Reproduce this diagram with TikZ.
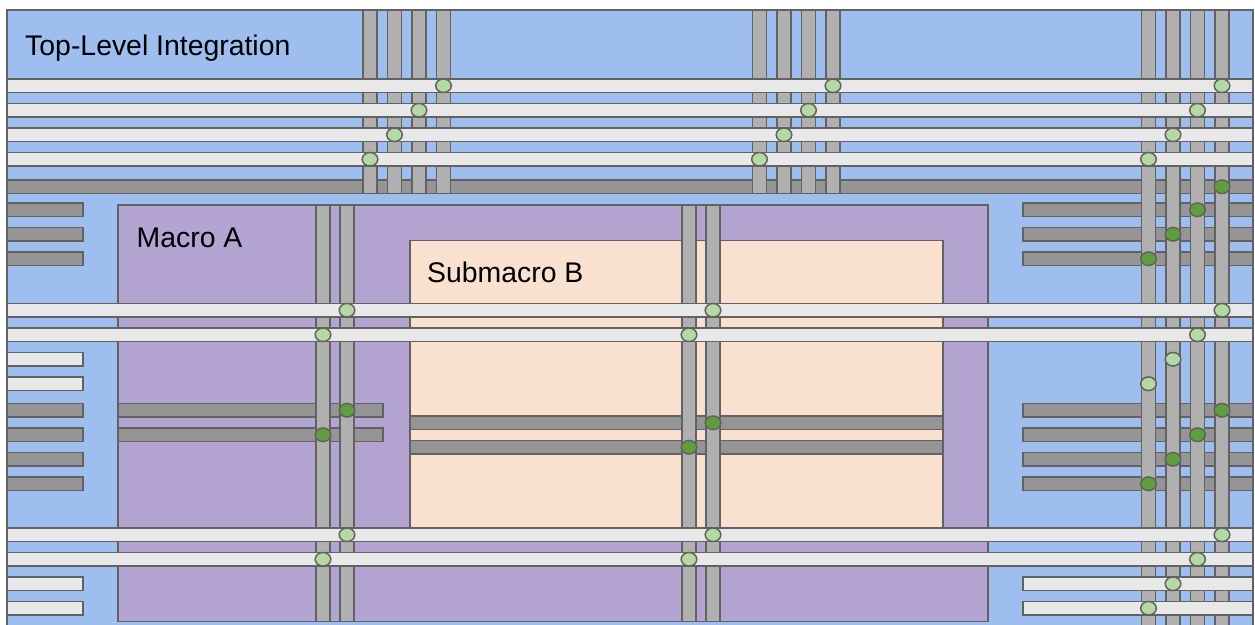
\documentclass[tikz,border=0pt]{standalone}
\usepackage{fontspec}
\setmainfont{Liberation Sans}
\definecolor{topblue}{HTML}{9FBEF0}
\definecolor{macropurple}{HTML}{B4A4D2}
\definecolor{subpeach}{HTML}{FAE0CF}
\definecolor{lightrail}{HTML}{E8E8E8}
\definecolor{vertrail}{HTML}{B0B0B0}
\definecolor{darkrail}{HTML}{959595}
\definecolor{lightvia}{HTML}{B4D9A3}
\definecolor{darkvia}{HTML}{5E9E3F}
\definecolor{edgegray}{HTML}{626262}
\tikzset{
  blk/.style={draw=edgegray, line width=1.6pt},
  lrail/.style={draw=edgegray, fill=lightrail, line width=1.6pt},
  drail/.style={draw=edgegray, fill=darkrail, line width=1.6pt},
  vrail/.style={draw=edgegray, fill=vertrail, line width=1.6pt},
  lvia/.style={draw=edgegray, fill=lightvia, line width=1.5pt},
  dvia/.style={draw=edgegray, fill=darkvia, line width=1.5pt},
  lbl/.style={anchor=base west, inner sep=0pt, font=\fontsize{28.4}{30}\selectfont}
}
\newcommand{\hrl}[4]{\path[#1] (#2,#4) rectangle (#3,#4+13.5);}
\newcommand{\vrl}[3]{\path[vrail] (#1-7,#2) rectangle (#1+7,#3);}
\newcommand{\lv}[2]{\path[lvia] (#1,#2) ellipse [x radius=7.8, y radius=6.8];}
\newcommand{\dv}[2]{\path[dvia] (#1,#2) ellipse [x radius=7.8, y radius=6.8];}
\begin{document}
\begin{tikzpicture}[x=1pt,y=-1pt]
\useasboundingbox (0,0) rectangle (1255,624);
\begin{scope}
\clip (0,0) rectangle (1255,624);
% top-level block
\path[blk, fill=topblue] (7,10) rectangle (1253,650);
\node[lbl] (toplbl) at (25,55) {Top-Level Integration};
% Macro A and Submacro B
\path[blk, fill=macropurple] (118,205) rectangle (988,621.5);
\node[lbl] (macrolbl) at (136.5,247.5) {Macro A};
\path[blk, fill=subpeach] (410,240.5) rectangle (943,528);
\node[lbl] (sublbl) at (427,282.5) {Submacro B};
% dark horizontal rails
\hrl{drail}{7}{1253}{180}
\foreach \y in {203,227.5,252}{\hrl{drail}{7}{83}{\y}\hrl{drail}{1023}{1253}{\y}}
\foreach \y in {403.5,428,452.5,477}{\hrl{drail}{7}{83}{\y}\hrl{drail}{1023}{1253}{\y}}
\foreach \y in {403.5,428}{\hrl{drail}{118}{383}{\y}}
\foreach \y in {416,440.5}{\hrl{drail}{410}{943}{\y}}
% vertical rails
\foreach \x in {370,394.5,419,443.5,759.5,784,808.5,833}{\vrl{\x}{10}{193.5}}
\foreach \x in {1148.5,1173,1197.5,1222}{\vrl{\x}{10}{650}}
\foreach \x in {323,347,689,713}{\vrl{\x}{205}{621.5}}
% light horizontal rails
\foreach \y in {79,103.5,128,152.5,303.5,328,528,552.5}{\hrl{lrail}{7}{1253}{\y}}
\foreach \y in {352.5,377,577,601.5}{\hrl{lrail}{7}{83}{\y}}
\foreach \y in {577,601.5}{\hrl{lrail}{1023}{1253}{\y}}
% vias, top rails
\foreach \dx/\y in {0/85.75,-24.5/110.25,-49/134.75,-73.5/159.25}{
  \lv{443.5+\dx}{\y}\lv{833+\dx}{\y}\lv{1222+\dx}{\y}}
% dark vias, right upper
\dv{1222}{186.75}\dv{1197.5}{209.75}\dv{1173}{234.25}\dv{1148.5}{258.75}
% middle light rails
\lv{347}{310.25}\lv{713}{310.25}\lv{1222}{310.25}
\lv{323}{334.75}\lv{689}{334.75}\lv{1197.5}{334.75}
\lv{1173}{359.25}\lv{1148.5}{383.75}
% macro A and submacro dark vias
\dv{347}{410.25}\dv{323}{434.75}
\dv{713}{422.75}\dv{689}{447.25}
\dv{1222}{410.25}\dv{1197.5}{434.75}\dv{1173}{459.25}\dv{1148.5}{483.75}
% bottom light rails
\lv{347}{534.75}\lv{713}{534.75}\lv{1222}{534.75}
\lv{323}{559.25}\lv{689}{559.25}\lv{1197.5}{559.25}
\lv{1173}{583.75}\lv{1148.5}{608.25}
\end{scope}
\end{tikzpicture}
\end{document}
